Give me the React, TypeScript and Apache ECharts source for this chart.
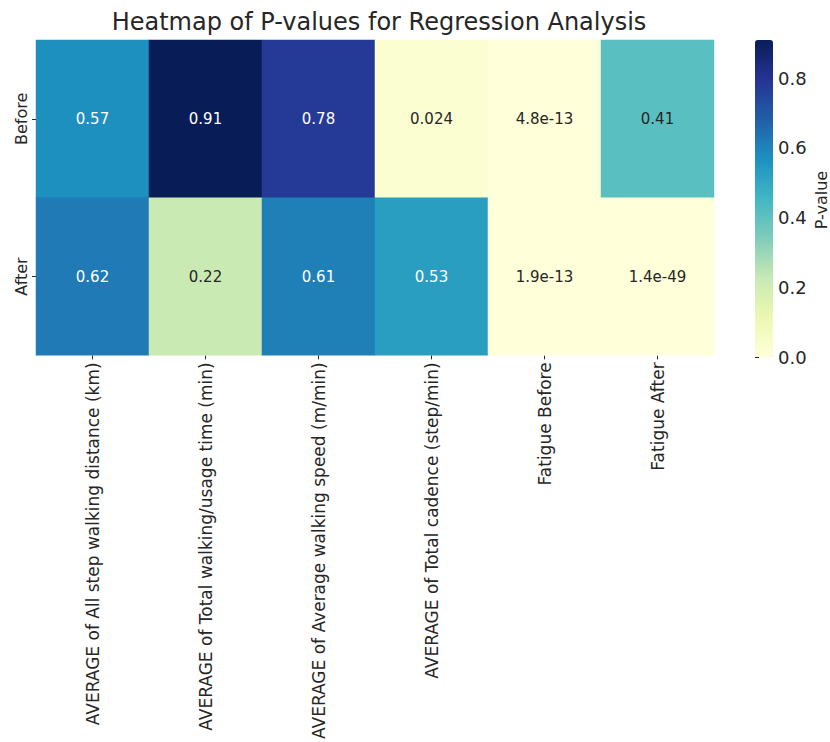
import React, { useEffect, useRef } from "react";
import * as echarts from "echarts";

const columns = [
  "AVERAGE of All step walking distance (km)",
  "AVERAGE of Total walking/usage time (min)",
  "AVERAGE of Average walking speed (m/min)",
  "AVERAGE of Total cadence (step/min)",
  "Fatigue Before",
  "Fatigue After",
];
const rows = ["Before", "After"];
const beforeValues = [0.57, 0.91, 0.78, 0.024, 4.8e-13, 0.41];
const afterValues = [0.62, 0.22, 0.61, 0.53, 1.9e-13, 1.4e-49];
const colorbarTicks = [0, 0.2, 0.4, 0.6, 0.8];
const colorbarTitle = "P-value";
const ylgnbu = ["#ffffd9", "#edf8b1", "#c7e9b4", "#7fcdbb", "#41b6c4", "#1d91c0", "#225ea8", "#253494", "#081d58"];

const FONT = "DejaVu Sans";
const TEXT = "#262626";

export default function App() {
  const ref = useRef<HTMLDivElement>(null);
  useEffect(() => {
    if (!ref.current) return;
    document.body.style.margin = "0";
    document.body.style.overflow = "hidden";
    const chart = echarts.init(ref.current, undefined, { renderer: "svg" });
    const all = [beforeValues, afterValues];
    const vmax = Math.max(...beforeValues, ...afterValues);
    const data: any[] = [];
    all.forEach((vals, r) => {
      vals.forEach((v, c) => {
        data.push({
          value: [c, r, v],
          label: { color: v > 0.5 ? "#ffffff" : TEXT },
        });
      });
    });
    chart.setOption({
      animation: false,
      textStyle: { fontFamily: FONT },
      title: {
        text: "Heatmap of P-values for Regression Analysis",
        left: 374,
        textAlign: "center",
        top: 5,
        textStyle: { fontFamily: FONT, fontSize: 24, fontWeight: "normal", color: TEXT },
      },
      graphic: [
        {
          type: "text",
          x: 821,
          y: 200,
          rotation: Math.PI / 2,
          style: {
            text: colorbarTitle,
            fontSize: 16,
            fontFamily: FONT,
            fill: TEXT,
            align: "center",
            verticalAlign: "middle",
          },
        },
      ],
      grid: [
        { left: 36, top: 40, width: 678, height: 317 },
        { left: 755, top: 40, width: 18, height: 317 },
      ],
      xAxis: [
        {
          type: "category",
          data: columns,
          gridIndex: 0,
          axisLine: { show: false },
          axisTick: { show: true, alignWithLabel: true, length: 4, lineStyle: { color: TEXT } },
          axisLabel: { rotate: 90, interval: 0, fontSize: 17, color: TEXT, margin: 7, fontFamily: FONT },
          splitLine: { show: false },
        },
        { type: "value", gridIndex: 1, min: 0, max: 1, show: false },
      ],
      yAxis: [
        {
          type: "category",
          data: rows,
          inverse: true,
          gridIndex: 0,
          axisLine: { show: false },
          axisTick: { show: true, alignWithLabel: true, length: 4, lineStyle: { color: TEXT } },
          axisLabel: { rotate: 90, fontSize: 16, color: TEXT, margin: 7, fontFamily: FONT },
          splitLine: { show: false },
        },
        {
          type: "value",
          gridIndex: 1,
          min: 0,
          max: vmax,
          position: "right",
          axisLine: { show: false },
          splitLine: { show: false },
          axisTick: { show: true, length: 4, lineStyle: { color: TEXT }, customValues: colorbarTicks },
          axisLabel: {
            fontSize: 18,
            color: TEXT,
            margin: 5,
            fontFamily: FONT,
            customValues: colorbarTicks,
            formatter: (v: number) => v.toFixed(1),
          },
        },
      ],
      visualMap: {
        type: "continuous",
        min: 0,
        max: vmax,
        dimension: 2,
        seriesIndex: 0,
        calculable: false,
        hoverLink: false,
        left: 755,
        top: 40,
        padding: 0,
        itemWidth: 18,
        itemHeight: 317,
        text: null,
        inRange: { color: ylgnbu },
      },
      series: [
        {
          type: "heatmap",
          xAxisIndex: 0,
          yAxisIndex: 0,
          data,
          label: {
            show: true,
            fontSize: 15,
            fontFamily: FONT,
            formatter: (p: any) => Number(p.value[2]).toPrecision(2),
          },
          emphasis: { disabled: true },
        },
      ],
    });
    return () => chart.dispose();
  }, []);
  return (
    <div
      ref={ref}
      style={{ position: "absolute", left: 0, top: 0, width: 830, height: 742, overflow: "hidden" }}
    />
  );
}
